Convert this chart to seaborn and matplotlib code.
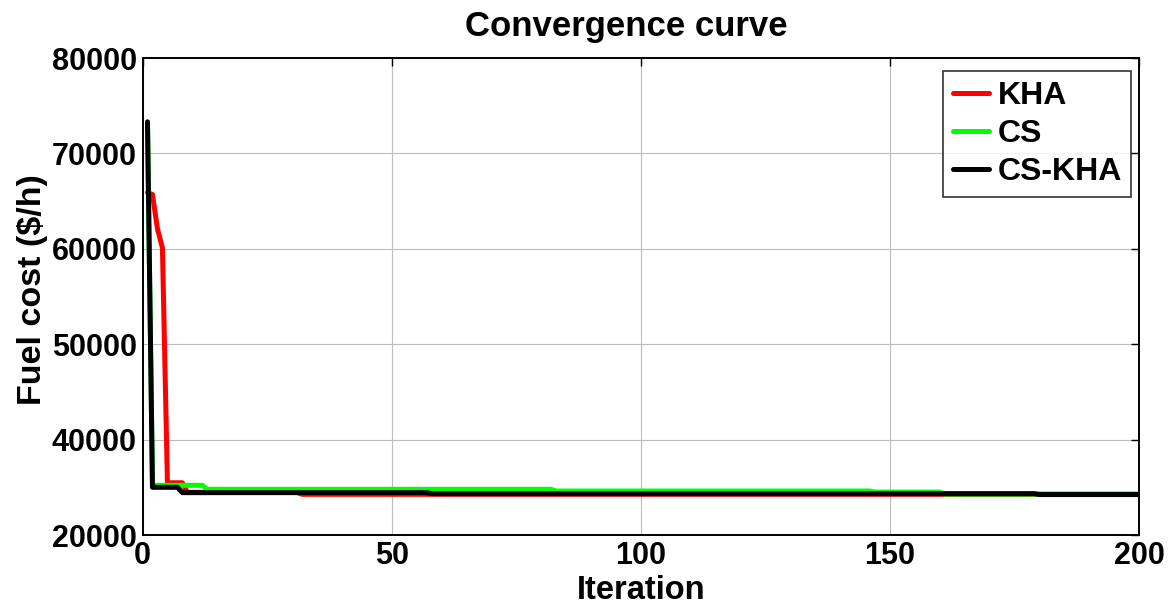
import numpy as np
import pandas as pd
import matplotlib
matplotlib.use("Agg")
import matplotlib.pyplot as plt
import seaborn as sns

# Best fuel cost per iteration, stored as step levels and how many iterations each level lasts
kha_levels = [65900, 65700, 62100, 60100, 30950, 28950, 28530]
kha_runs = [1, 1, 1, 1, 4, 23, 169]

cs_levels = [73300, 30420, 29580, 29220, 29010, 28560]
cs_runs = [1, 11, 70, 64, 14, 40]

cskha_levels = [73300, 30000, 28880, 28670, 28480]
cskha_runs = [1, 6, 50, 122, 21]

methods = ["KHA", "CS", "CS-KHA"]
colors = ["#ff0000", "#00ff00", "#000000"]

x_ticks = [0, 50, 100, 150, 200]
y_ticks = [20000, 40000, 50000, 60000, 70000, 80000]
y_tick_labels = ["20000", "40000", "50000", "60000", "70000", "80000"]

iterations = np.arange(1, 201)
series = {
    "KHA": np.repeat(kha_levels, kha_runs),
    "CS": np.repeat(cs_levels, cs_runs),
    "CS-KHA": np.repeat(cskha_levels, cskha_runs),
}
df = pd.concat(
    [pd.DataFrame({"Iteration": iterations, "Cost": v, "Method": k}) for k, v in series.items()],
    ignore_index=True,
)

sns.set_style("white")
plt.rcParams["font.family"] = ["Liberation Sans", "DejaVu Sans"]
plt.rcParams["font.weight"] = "bold"
plt.rcParams["text.color"] = "black"
plt.rcParams["axes.labelcolor"] = "black"

fig = plt.figure(figsize=(11.7, 6.05), dpi=100)
ax = fig.add_axes([0.1218, 0.1157, 0.8517, 0.7884])

sns.lineplot(
    data=df, x="Iteration", y="Cost", hue="Method", hue_order=methods,
    palette=dict(zip(methods, colors)), linewidth=3.6, ax=ax, legend=False,
)

# Lower part of the axis (below 40000) is compressed to half scale
def fwd(y):
    y = np.asarray(y, dtype=float)
    return np.where(y < 40000, 20000 + y / 2, y)

def inv(d):
    d = np.asarray(d, dtype=float)
    return np.where(d < 40000, 2 * (d - 20000), d)

ax.set_yscale("function", functions=(fwd, inv))
ax.set_xlim(0, 200)
ax.set_ylim(20000, 80000)
ax.set_xticks(x_ticks)
ax.set_xticklabels([str(t) for t in x_ticks])
ax.set_yticks(y_ticks)
ax.set_yticklabels(y_tick_labels)
ax.minorticks_off()

ax.grid(True, color="#bcbcbc", linewidth=0.8)
ax.set_axisbelow(True)
for s in ax.spines.values():
    s.set_visible(True)
    s.set_color("black")
    s.set_linewidth(1.4)

ax.tick_params(axis="both", direction="in", length=6, width=1, top=True, right=True,
               labelsize=22, pad=4, colors="black")
for lab in ax.get_xticklabels() + ax.get_yticklabels():
    lab.set_fontweight("bold")
    lab.set_color("black")

ax.set_title("Convergence curve", fontsize=25, fontweight="bold", pad=16, color="black", x=0.486)
ax.set_xlabel("Iteration", fontsize=23.5, fontweight="bold", labelpad=3, color="black")
ax.set_ylabel("Fuel cost ($/h)", fontsize=24.5, fontweight="bold", color="black")
ax.yaxis.set_label_coords(-0.095, 0.515)

handles = [plt.Line2D([], [], color=c, linewidth=3.6) for c in colors]
leg = ax.legend(handles, methods, loc="upper right", frameon=True,
                fancybox=False, edgecolor="black", handlelength=1.15, handletextpad=0.25,
                labelspacing=0.25, borderpad=0.3, borderaxespad=0.3,
                bbox_to_anchor=(1.002, 0.992),
                prop={"weight": "bold", "size": 23})
leg.get_frame().set_linewidth(1.2)
for t in leg.get_texts():
    t.set_color("black")

fig.savefig("out.png", dpi=100, facecolor="white")
